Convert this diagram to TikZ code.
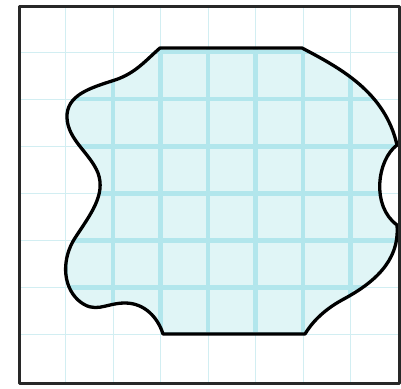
\documentclass[tikz,border=0pt]{standalone}
\begin{document}
\begin{tikzpicture}[x=1pt,y=-1pt,line join=round]
\definecolor{thingrid}{RGB}{210,238,242}
\definecolor{thickgrid}{RGB}{178,230,236}
\definecolor{blobfill}{RGB}{224,245,246}
\definecolor{framecol}{RGB}{40,40,40}
\tikzset{
  framebox/.style={draw=framecol,line width=2.8pt},
  thinline/.style={draw=thingrid,line width=1pt},
  thickline/.style={draw=thickgrid,line width=4.5pt},
  blobline/.style={draw=black,line width=3.3pt}
}
\useasboundingbox (0,0) rectangle (401,388);
\fill[white] (0,0) rectangle (401,388);
% thin grid over whole sheet
\foreach \i in {1,...,7} {
  \draw[thinline] ({18+47.5*\i},5) -- ({18+47.5*\i},382);
  \draw[thinline] (18,{5+47.1*\i}) -- (398,{5+47.1*\i});
}
\def\blobpath{(160,48) -- (302,48)
  .. controls (340,68) and (385,92) .. (397,145)
  .. controls (377,160) and (371,206) .. (397,225)
  .. controls (400,262) and (372,284) .. (342,300)
  .. controls (322,311) and (311,324) .. (305,334)
  -- (163,334)
  .. controls (158,318) and (145,303) .. (125,303)
  .. controls (105,303) and (95,315) .. (78,300)
  .. controls (62,285) and (62,258) .. (75,238)
  .. controls (90,215) and (106,195) .. (98,173)
  .. controls (90,153) and (68,140) .. (67,118)
  .. controls (66,95) and (90,88) .. (115,80)
  .. controls (136,73) and (146,60) .. (160,48) -- cycle}
\fill[blobfill] \blobpath;
\begin{scope}
  \clip \blobpath;
  \foreach \i in {1,...,7} {
    \draw[thickline] ({18+47.5*\i},5) -- ({18+47.5*\i},382);
    \draw[thickline] (18,{5+47.1*\i}) -- (398,{5+47.1*\i});
  }
\end{scope}
\draw[blobline] \blobpath;
\node[framebox,minimum width=380pt,minimum height=377pt,inner sep=0pt,anchor=north west] (frame) at (18,5) {};
\end{tikzpicture}
\end{document}
